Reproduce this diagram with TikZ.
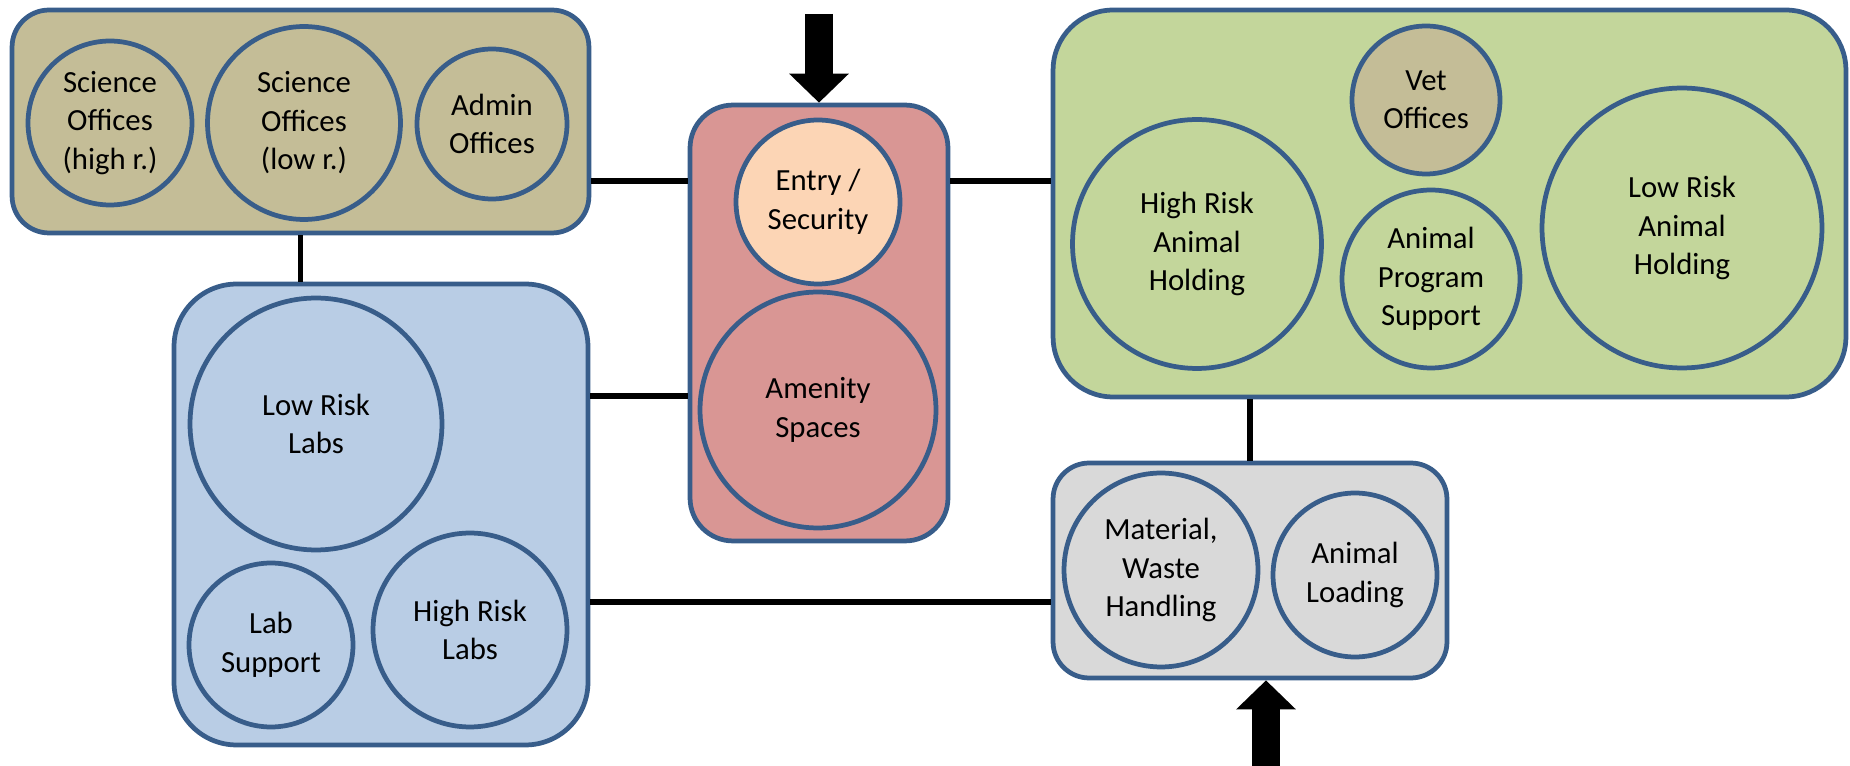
\documentclass[tikz,border=0pt]{standalone}
\usepackage{fontspec}
\setmainfont{Carlito}
\usepackage{tikz}
\usetikzlibrary{arrows.meta}
\definecolor{officezone}{HTML}{C4BD97}
\definecolor{lobbyzone}{HTML}{D99694}
\definecolor{entryroom}{HTML}{FCD5B5}
\definecolor{animalzone}{HTML}{C3D69B}
\definecolor{labzone}{HTML}{B9CDE5}
\definecolor{dockzone}{HTML}{D9D9D9}
\definecolor{zoneline}{HTML}{385D8A}
\newcommand\roomfont{\fontsize{17.5}{21.9}\selectfont}
\tikzset{
  zone/.style={rectangle,draw=zoneline,line width=0.095cm,inner sep=0pt,rounded corners=#1},
  room/.style={circle,draw=zoneline,line width=0.095cm,inner sep=0pt,align=center,font=\roomfont},
  link/.style={line width=0.11cm,black},
  access/.style={line width=0.56cm,black,-{Triangle[width=1.16cm,length=0.58cm]}}
}

\begin{document}
\begin{tikzpicture}[x=0.02cm,y=-0.02cm]
  \useasboundingbox (0,0) rectangle (1850,766);
  \node[zone=0.74cm,fill=officezone,minimum width=11.54cm,minimum height=4.46cm] (offices) at (300.5,121.5) {};
  \node[zone=0.86cm,fill=lobbyzone,minimum width=5.16cm,minimum height=8.72cm] (lobby) at (819,323) {};
  \node[zone=1.2cm,fill=animalzone,minimum width=15.86cm,minimum height=7.74cm] (vivarium) at (1449.5,203.5) {};
  \node[zone=1.25cm,fill=labzone,minimum width=8.28cm,minimum height=9.22cm] (labs) at (381,514.5) {};
  \node[zone=0.72cm,fill=dockzone,minimum width=7.88cm,minimum height=4.30cm] (dock) at (1250,570.5) {};
  \node[room,fill=officezone,minimum size=3.28cm] (scihigh) at (110,123) {Science\\Offices\\(high r.)};
  \node[room,fill=officezone,minimum size=3.86cm] (scilow) at (304,123) {Science\\Offices\\(low r.)};
  \node[room,fill=officezone,minimum size=3.0cm] (admin) at (492,124) {Admin\\Offices};
  \node[room,fill=entryroom,minimum size=3.28cm] (entry) at (818,202) {Entry /\\Security};
  \node[room,fill=lobbyzone,minimum size=4.72cm] (amenity) at (818,410) {Amenity\\Spaces};
  \node[room,fill=officezone,minimum size=2.96cm] (vet) at (1426,100) {Vet\\Offices};
  \node[room,fill=animalzone,minimum size=4.98cm] (highhold) at (1197,244) {High Risk\\Animal\\Holding};
  \node[room,fill=animalzone,minimum size=3.56cm] (progsup) at (1431,279) {Animal\\Program\\Support};
  \node[room,fill=animalzone,minimum size=5.6cm] (lowhold) at (1682,228) {Low Risk\\Animal\\Holding};
  \node[room,fill=labzone,minimum size=5.04cm] (lowlabs) at (316,424) {Low Risk\\Labs};
  \node[room,fill=labzone,minimum size=3.28cm] (labsup) at (271,645) {Lab\\Support};
  \node[room,fill=labzone,minimum size=3.88cm] (highlabs) at (470,630) {High Risk\\Labs};
  \node[room,fill=dockzone,minimum size=3.88cm] (waste) at (1161,570) {Material,\\Waste\\Handling};
  \node[room,fill=dockzone,minimum size=3.28cm] (loading) at (1355,575) {Animal\\Loading};
  \coordinate (upper) at (0,181);
  \coordinate (middle) at (0,396);
  \coordinate (lower) at (0,602);
  \coordinate (visitors) at (819,14);
  \coordinate (supplies) at (1266,766);
  \draw[link] (offices.east |- upper) -- (lobby.west |- upper);
  \draw[link] (lobby.east |- upper) -- (vivarium.west |- upper);
  \draw[link] (labs.east |- middle) -- (lobby.west |- middle);
  \draw[link] (labs.east |- lower) -- (dock.west |- lower);
  \draw[link] (offices.south) -- (offices.south |- labs.north);
  \draw[link] (dock.north |- vivarium.south) -- (dock.north);
  \draw[access] (visitors) -- (lobby.north);
  \draw[access] (supplies) -- (dock.south -| supplies);
\end{tikzpicture}
\end{document}
